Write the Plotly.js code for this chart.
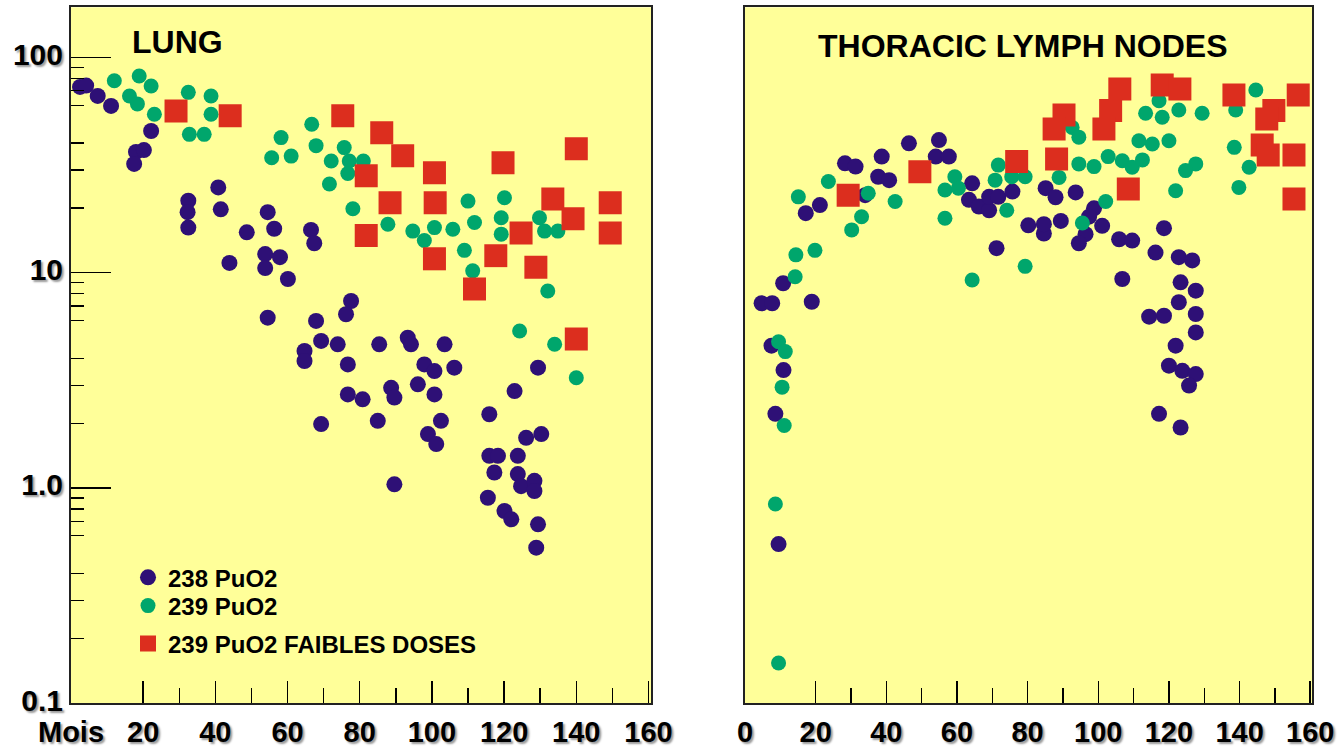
<!DOCTYPE html>
<html>
<head>
<meta charset="utf-8">
<script src="https://cdn.plot.ly/plotly-3.0.1.min.js"></script>
<style>
  html, body { margin: 0; padding: 0; background: #ffffff; }
  #chart { width: 1342px; height: 749px; }
</style>
</head>
<body>
<div id="chart"></div>
<script>
// ---- Data (months after exposure, activity ratio, log scale) ----
// LUNG panel
const lung238Months = [2.5,4.2,7.4,11.1,22.2,18.0,20.2,17.5,32.5,32.3,32.5,40.8,41.5,48.7,54.5,56.3,66.5,67.4,43.9,53.8,53.8,57.9,60.1,77.6,76.2,54.5,67.9,69.3,73.9,64.7,64.7,76.7,85.4,93.3,94.2,103.5,97.9,100.7,106.2,129.4,122.9,76.7,80.8,88.7,89.6,96.1,100.7,69.3,85.0,102.5,98.9,101.2,115.9,126.1,130.3,115.9,118.3,123.8,117.3,123.8,124.7,128.4,128.4,89.6,115.5,120.1,122.0,129.4,128.9];
const lung238Values = [72.9,74,66.2,59.5,45.5,36.4,37.1,32.0,21.6,19.1,16.2,24.9,19.7,15.4,19.1,16.0,15.8,13.7,11.1,12.2,10.5,11.8,9.35,7.39,6.41,6.18,5.97,4.82,4.65,4.33,3.89,3.75,4.65,4.99,4.65,4.65,3.75,3.49,3.62,3.62,2.82,2.72,2.58,2.92,2.63,3.03,2.72,1.98,2.05,2.05,1.78,1.60,2.20,1.71,1.78,1.41,1.41,1.41,1.18,1.16,1.02,1.08,0.968,1.04,0.901,0.782,0.715,0.678,0.528];

const lung239Months = [12.0,18.9,22.2,16.2,18.4,23.1,32.5,38.8,38.8,32.8,36.9,55.6,58.2,61.0,66.7,67.9,72.1,75.7,77.1,81.0,76.7,71.6,78.1,87.8,94.7,97.9,100.7,105.8,110.0,111.8,109.0,111.3,120.1,119.2,119.2,129.8,131.2,134.9,132.1,124.3,134.0,140.0];
const lung239Values = [77.9,81.9,73.6,66.2,60.8,54.4,68.8,66.2,54.4,43.9,43.9,34.2,42.4,34.8,48.9,38.9,33.0,38.1,33.0,33.0,28.9,25.8,19.8,16.8,15.6,14.1,16.2,15.9,21.5,17.1,12.7,10.2,22.3,18.0,15.1,18.0,15.6,15.6,8.22,5.36,4.65,3.25];

const lungLowMonths = [29.1,44.1,75.3,86.1,91.9,100.7,81.8,88.4,81.8,100.9,100.7,119.7,140.0,133.5,139.1,149.4,149.4,124.7,117.7,128.8,111.8,140.0];
const lungLowValues = [56.4,53.6,53.6,44.7,34.9,29.1,28.2,21.1,14.9,21.1,11.6,32.4,37.6,22.0,17.8,21.1,15.3,15.3,12.0,10.6,8.40,4.92];

// THORACIC LYMPH NODES panel
const nodes238Months = [4.7,7.7,10.8,17.2,21.2,18.9,28.3,31.3,34.0,38.7,37.7,40.8,46.4,54.9,54.0,57.7,64.3,63.4,66.2,69.1,69.1,71.7,75.7,71.2,80.2,84.6,85.1,87.9,93.6,98.8,97.4,101.1,96.4,94.5,89.4,84.6,105.9,109.6,118.6,116.2,122.8,126.6,106.8,123.3,127.6,122.8,114.4,118.6,127.6,127.6,121.9,120.0,123.8,127.6,125.7,117.2,123.3,7.5,10.9,8.6,9.5];
const nodes238Values = [7.21,7.21,8.93,18.9,20.6,7.33,32.2,31.1,22.9,34.6,27.9,26.9,39.9,41.3,34.6,34.6,26.0,21.8,20.3,19.5,22.5,22.5,23.8,13.0,16.6,15.2,24.7,22.4,23.6,19.9,18.2,16.5,15.1,13.7,17.4,16.8,14.3,14.1,16.1,12.4,11.8,11.4,9.35,9.02,8.25,7.29,6.25,6.31,6.43,5.28,4.58,3.70,3.50,3.38,2.99,2.21,1.91,4.58,3.53,2.21,0.549];

const nodes239Months = [15.1,23.6,34.9,33.0,30.2,42.5,14.4,19.8,14.2,56.6,56.6,59.4,60.4,64.3,71.7,70.8,74.1,75.5,79.3,79.3,9.5,11.4,10.5,11.1,8.6,9.5,144.6,117.2,122.8,129.4,118.1,113.4,138.9,92.6,94.5,111.5,115.3,120.0,138.5,94.5,98.8,102.8,106.8,109.6,112.5,127.6,124.7,142.7,88.9,139.8,121.9,102.1,95.5];
const nodes239Values = [22.5,26.5,23.4,18.2,15.8,21.4,12.1,12.7,9.58,17.9,24.2,27.9,24.7,9.25,31.6,26.9,19.5,27.9,27.9,10.7,4.78,4.30,2.94,1.95,0.843,0.154,70.6,62.9,57.0,55.0,52.7,55.0,57.0,47.3,42.6,41.0,39.6,41.0,38.2,32.0,31.1,34.6,33.1,30.9,33.4,32.0,29.8,30.9,27.7,24.9,24.0,21.4,17.0];

const nodesLowMonths = [29.2,49.5,76.9,106.1,118.1,123.1,138.4,156.6,90.3,87.5,103.5,101.6,88.2,108.5,149.7,147.7,146.4,148.1,155.4,155.4];
const nodesLowValues = [22.9,29.4,32.8,71.3,74.4,71.3,66.9,66.9,54.0,46.5,56.6,46.5,33.7,24.5,56.6,51.7,39.2,35.2,35.2,22.0];

// Labels
const seriesNames = ['238 PuO2', '239 PuO2', '239 PuO2 FAIBLES DOSES'];
const panelTitles = ['LUNG', 'THORACIC LYMPH NODES'];
const xTickVals = [0,20,40,60,80,100,120,140,160];
const xTickTextLung = ['Mois','20','40','60','80','100','120','140','160'];
const xTickTextNodes = ['0','20','40','60','80','100','120','140','160'];
const xMinorVals = [30,50,70,90,110,130,150];
const yTickVals = [0.1,1,10,100];
const yTickText = ['0.1','1.0','10','100'];
const yMinorVals = [0.2,0.3,0.4,0.6,0.7,0.8,0.9,2,3,4,6,7,8,9,20,30,40,60,70,80,90];
const yMidVals = [0.5,5,50];

// ---- Styling ----
const W = 1342, H = 749;
const C238 = '#2E1076', C239 = '#00A66C', CLOW = '#DC2E1E';
const FONT = 'Liberation Sans, Arial, Helvetica, sans-serif';
const shadow = '2px 2px 2px #9a9a9a';
const xTickFont = {family: FONT, size: 29, weight: 'bold', color: '#000', shadow: shadow};
const yTickFont = {family: FONT, size: 30, weight: 'bold', color: '#000', shadow: shadow};

const yDomain = [1 - 703.3 / H, 1 - 7.3 / H];
const yRange = [-1, 2.2326];

function mk(x, y, name, color, symbol, size, xa, ya, showlegend, legendId) {
  return {
    type: 'scatter', mode: 'markers', x: x, y: y, name: name,
    xaxis: xa, yaxis: ya, showlegend: showlegend, legend: legendId,
    marker: {color: color, symbol: symbol, size: size, line: {width: 0}}
  };
}

const data = [
  mk(lung238Months, lung238Values, seriesNames[0], C238, 'circle', 16, 'x', 'y', true, 'legend'),
  mk(lung239Months, lung239Values, seriesNames[1], C239, 'circle', 15, 'x', 'y', true, 'legend2'),
  mk(lungLowMonths, lungLowValues, seriesNames[2], CLOW, 'square', 23, 'x', 'y', true, 'legend3'),
  mk(nodes238Months, nodes238Values, seriesNames[0], C238, 'circle', 16, 'x2', 'y2', false, 'legend'),
  mk(nodes239Months, nodes239Values, seriesNames[1], C239, 'circle', 15, 'x2', 'y2', false, 'legend2'),
  mk(nodesLowMonths, nodesLowValues, seriesNames[2], CLOW, 'square', 23, 'x2', 'y2', false, 'legend3')
];

function xAxis(domain, range, anchor, text) {
  return {
    domain: domain, range: range, anchor: anchor, type: 'linear',
    showgrid: false, zeroline: false,
    showline: true, mirror: true, linecolor: '#222', linewidth: 2,
    tickmode: 'array', tickvals: xTickVals, ticktext: text,
    ticks: 'inside', ticklen: 22, tickwidth: 1.5, tickcolor: '#000',
    ticklabelstandoff: 2,
    tickfont: xTickFont,
    minor: {tickmode: 'array', tickvals: xMinorVals, ticks: 'inside', ticklen: 15, tickwidth: 1.5, tickcolor: '#000', showgrid: false},
    fixedrange: true
  };
}

function legendAt(yPx) {
  return {
    x: 128 / W, y: 1 - yPx / H, xanchor: 'left', yanchor: 'middle',
    bgcolor: 'rgba(0,0,0,0)', borderwidth: 0,
    font: {family: FONT, size: 24, weight: 'bold', color: '#000'},
    itemsizing: 'trace'
  };
}

const layout = {
  width: W, height: H, autosize: false,
  margin: {l: 0, r: 0, t: 0, b: 0, pad: 0},
  paper_bgcolor: '#ffffff', plot_bgcolor: '#FFFF99',
  font: {family: FONT, color: '#000'},
  xaxis: xAxis([71 / W, 651 / W], [0, 160.7], 'y', xTickTextLung),
  xaxis2: xAxis([745 / W, 1312 / W], [0, 160.5], 'y2', xTickTextNodes),
  yaxis: {
    domain: yDomain, range: yRange, type: 'log', anchor: 'x',
    showgrid: false, zeroline: false,
    showline: true, mirror: true, linecolor: '#222', linewidth: 2,
    tickmode: 'array', tickvals: yTickVals, ticktext: yTickText,
    ticks: 'inside', ticklen: 40, tickwidth: 1.5, tickcolor: '#000',
    ticklabelstandoff: 0, ticklabelshift: -3,
    tickfont: yTickFont,
    minor: {tickmode: 'array', tickvals: yMinorVals, ticks: 'inside', ticklen: 13, tickwidth: 1.3, tickcolor: '#000', showgrid: false},
    fixedrange: true
  },
  yaxis3: {
    overlaying: 'y', anchor: 'x', side: 'left', type: 'log', range: yRange,
    showgrid: false, zeroline: false, showline: false,
    tickmode: 'array', tickvals: yMidVals, showticklabels: false,
    ticks: 'inside', ticklen: 28, tickwidth: 1.3, tickcolor: '#000',
    fixedrange: true
  },
  yaxis2: {
    domain: yDomain, range: yRange, type: 'log', anchor: 'x2',
    showgrid: false, zeroline: false,
    showline: true, mirror: true, linecolor: '#222', linewidth: 2,
    ticks: '', showticklabels: false,
    fixedrange: true
  },
  showlegend: true,
  legend: legendAt(577.7),
  legend2: legendAt(606),
  legend3: legendAt(644),
  annotations: [
    {text: panelTitles[0], xref: 'paper', yref: 'paper', x: 177.5 / W, y: 1 - 42 / H,
     xanchor: 'center', yanchor: 'middle', showarrow: false,
     font: {family: FONT, size: 32, weight: 'bold', color: '#000'}},
    {text: panelTitles[1], xref: 'paper', yref: 'paper', x: 1023 / W, y: 1 - 46 / H,
     xanchor: 'center', yanchor: 'middle', showarrow: false,
     font: {family: FONT, size: 32, weight: 'bold', color: '#000'}}
  ]
};

Plotly.newPlot('chart', data, layout, {displayModeBar: false, staticPlot: true});
</script>
</body>
</html>
